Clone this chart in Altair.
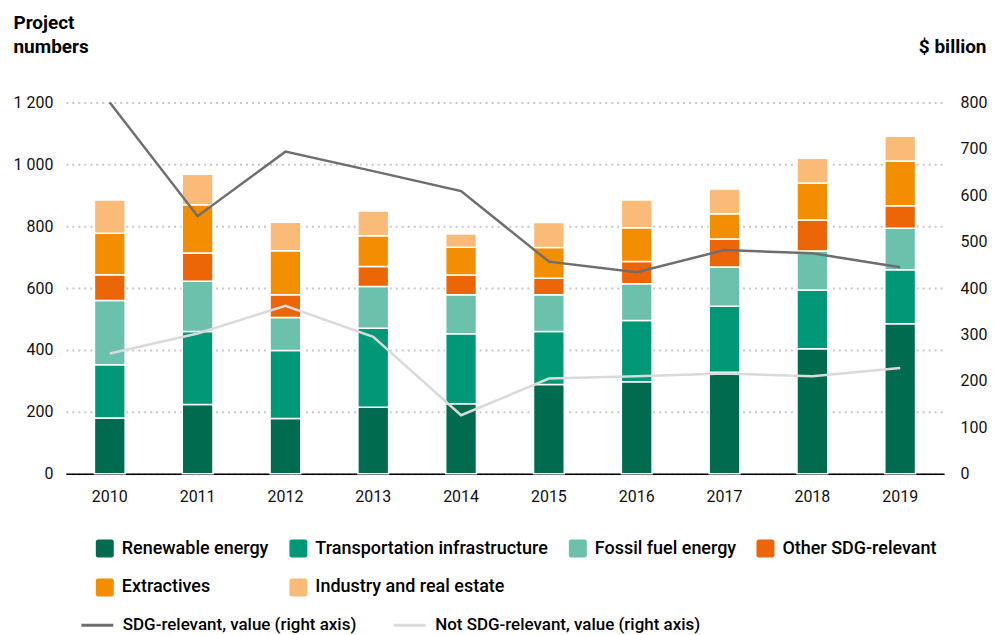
import altair as alt
import pandas as pd

years = ["2010", "2011", "2012", "2013", "2014", "2015", "2016", "2017", "2018", "2019"]
categories = ["Renewable energy", "Transportation infrastructure", "Fossil fuel energy",
              "Other SDG-relevant", "Extractives", "Industry and real estate"]
cat_colors = ["#006B4F", "#009877", "#6CC1AC", "#EC6608", "#F28E00", "#F9BB77"]

renewable = [180, 224, 178, 215, 226, 288, 297, 328, 404, 485]
transport = [172, 236, 220, 255, 226, 172, 198, 213, 190, 174]
fossil = [208, 162, 107, 135, 126, 118, 119, 127, 126, 134]
other = [83, 91, 73, 65, 64, 54, 72, 91, 100, 73]
extractives = [134, 156, 143, 99, 90, 99, 109, 81, 120, 145]
industry = [108, 99, 92, 80, 43, 81, 90, 80, 80, 80]

series_names = ["SDG-relevant, value (right axis)", "Not SDG-relevant, value (right axis)"]
series_colors = ["#6E6E6E", "#DADADA"]
sdg_value = [800, 555, 694, 652, 609, 457, 434, 482, 475, 445]
not_sdg_value = [259, 302, 362, 295, 126, 205, 210, 216, 210, 228]

left_ticks = [0, 200, 400, 600, 800, 1000, 1200]
right_ticks = [0, 100, 200, 300, 400, 500, 600, 700, 800]

FONT = "Roboto, sans-serif"

cat_values = [renewable, transport, fossil, other, extractives, industry]
bar_rows = []
for ci, (cat, vals) in enumerate(zip(categories, cat_values)):
    for y, v in zip(years, vals):
        bar_rows.append({"year": y, "category": cat, "value": v, "order": ci})
bars_df = pd.DataFrame(bar_rows)

line_rows = []
for s, vals in zip(series_names, [sdg_value, not_sdg_value]):
    for y, v in zip(years, vals):
        line_rows.append({"year": y, "series": s, "value": v})
lines_df = pd.DataFrame(line_rows)

rounded_square = ("M-1,-0.75A0.25,0.25,0,0,1,-0.75,-1L0.75,-1A0.25,0.25,0,0,1,1,-0.75"
                  "L1,0.75A0.25,0.25,0,0,1,0.75,1L-0.75,1A0.25,0.25,0,0,1,-1,0.75Z")
long_stroke = "M-2,0L2,0"

x_enc = alt.X("year:N", sort=years,
              scale=alt.Scale(paddingInner=0.65, paddingOuter=0.325),
              axis=alt.Axis(title=None, labelAngle=0, ticks=False, domain=True,
                            domainColor="#000000", domainWidth=1.5,
                            labelFontSize=16, labelPadding=15, labelColor="#111111"))

bars = alt.Chart(bars_df).mark_bar(stroke="white", strokeWidth=1.5).encode(
    x=x_enc,
    y=alt.Y("value:Q", stack="zero",
            scale=alt.Scale(domain=[0, 1200], nice=False),
            axis=alt.Axis(values=left_ticks, orient="left",
                          labelExpr="replace(format(datum.value, ','), ',', ' ')",
                          title=["Project", "numbers"], titleAngle=0, titleAlign="left",
                          titleBaseline="top", titleX=-53, titleY=-89,
                          titleFontSize=19, titleFontWeight="bold", titleLineHeight=24,
                          titleColor="#000000",
                          grid=True, gridColor="#C8C8C8", gridDash=[2, 4], gridWidth=2,
                          domain=False, ticks=False, labelFontSize=16, labelPadding=13,
                          labelColor="#111111")),
    color=alt.Color("category:N",
                    scale=alt.Scale(domain=categories, range=cat_colors),
                    legend=alt.Legend(title=None, orient="none", legendX=30, legendY=438,
                                      direction="horizontal", columns=4,
                                      symbolType=rounded_square, symbolSize=324,
                                      symbolStrokeWidth=0, labelFontSize=18,
                                      labelFontWeight=500,
                                      labelOffset=8, columnPadding=20, rowPadding=21,
                                      labelColor="#000000", padding=0, labelLimit=400)),
    order=alt.Order("order:Q", sort="ascending"),
)

lines = alt.Chart(lines_df).mark_line(strokeWidth=2.5).encode(
    x=alt.X("year:N", sort=years),
    y=alt.Y("value:Q", scale=alt.Scale(domain=[0, 800], nice=False),
            axis=alt.Axis(values=right_ticks, orient="right", grid=False,
                          title="$ billion", titleAngle=0, titleAlign="right",
                          titleBaseline="top", titleX=42, titleY=-65,
                          titleFontSize=19, titleFontWeight="bold", titleColor="#000000",
                          domain=False, ticks=False, labelFontSize=16, labelPadding=16,
                          labelColor="#111111")),
    color=alt.Color("series:N",
                    scale=alt.Scale(domain=series_names, range=series_colors),
                    legend=alt.Legend(title=None, orient="none", legendX=22, legendY=514,
                                      direction="horizontal", columns=2,
                                      symbolType=long_stroke, symbolSize=256,
                                      symbolStrokeWidth=3, labelFontSize=17,
                                      labelFontWeight=500,
                                      labelOffset=16, columnPadding=30,
                                      labelColor="#000000", padding=0, labelLimit=400)),
)

chart = alt.layer(bars, lines).resolve_scale(y="independent", color="independent").properties(
    width=880, height=372,
    padding={"left": 5, "top": 5, "right": 2, "bottom": 0},
).configure(font=FONT).configure_view(stroke=None)

chart.save("out.html", embed_options={"renderer": "svg", "actions": False})
